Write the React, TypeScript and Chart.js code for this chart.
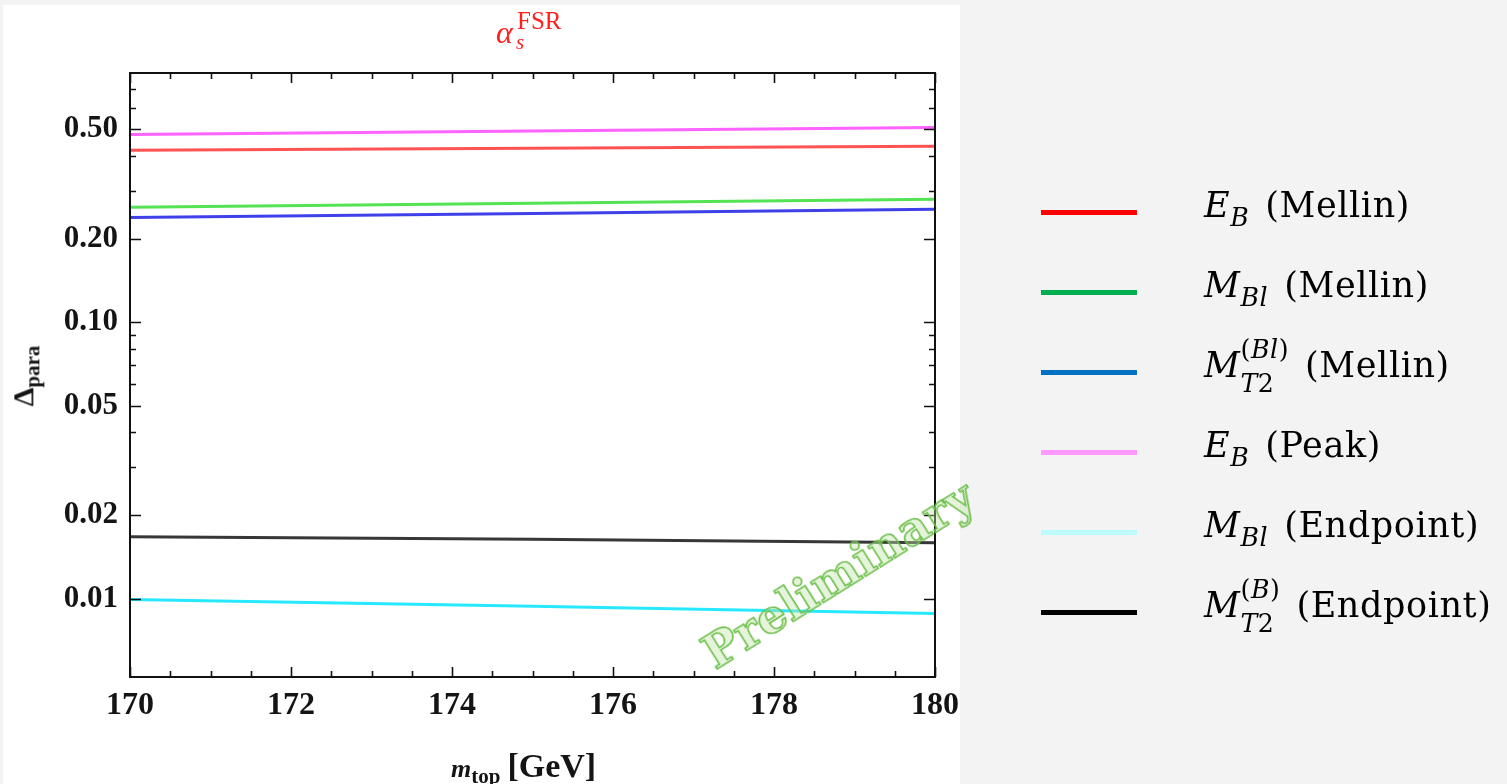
import React, { useEffect, useRef } from 'react';
import { Chart, registerables } from 'chart.js';
Chart.register(...registerables);

// ---- data ----
const mTop = [170, 175, 180];
const ebMellin = [0.42, 0.427, 0.434];
const mblMellin = [0.261, 0.27, 0.279];
const mt2blMellin = [0.24, 0.248, 0.257];
const ebPeak = [0.479, 0.493, 0.508];
const mblEndpoint = [0.00992, 0.00937, 0.00883];
const mt2bEndpoint = [0.01675, 0.0164, 0.01593];

const xMajorTicks = [170, 172, 174, 176, 178, 180];
const xTickLabels = ['170', '172', '174', '176', '178', '180'];
const xMinorTicks = [170.5, 171, 171.5, 172.5, 173, 173.5, 174.5, 175, 175.5, 176.5, 177, 177.5, 178.5, 179, 179.5];
const yMajorTicks = [0.01, 0.02, 0.05, 0.1, 0.2, 0.5];
const yTickLabels = ['0.01', '0.02', '0.05', '0.10', '0.20', '0.50'];
const yMinorTicks = [0.03, 0.04, 0.06, 0.07, 0.08, 0.09, 0.3, 0.4, 0.6, 0.7];

const seriesValues = [ebMellin, mblMellin, mt2blMellin, ebPeak, mblEndpoint, mt2bEndpoint];
const seriesColors = [
  'rgba(255,40,40,0.8)',
  'rgba(40,220,40,0.8)',
  'rgba(30,30,230,0.85)',
  'rgba(255,60,255,0.8)',
  'rgba(0,228,255,0.85)',
  'rgba(20,20,20,0.85)',
];
const legendColors = ['#ff0000', '#00b050', '#0070c0', '#ff99ff', '#bdfcfc', '#000000'];

const isClose = (a: number, b: number) => Math.abs(a - b) < 1e-9 * Math.max(1, Math.abs(b));

const framePlugin = {
  id: 'frameTicks',
  afterDraw(chart: any) {
    const { ctx, chartArea: a, scales } = chart;
    const x = scales.x;
    const y = scales.y;
    ctx.save();
    ctx.strokeStyle = '#111';
    ctx.lineWidth = 2;
    ctx.strokeRect(a.left, a.top, a.right - a.left, a.bottom - a.top);
    ctx.lineWidth = 1.6;
    ctx.beginPath();
    const xt = (v: number, len: number) => {
      const p = Math.round(x.getPixelForValue(v)) + 0.5;
      ctx.moveTo(p, a.bottom);
      ctx.lineTo(p, a.bottom - len);
      ctx.moveTo(p, a.top);
      ctx.lineTo(p, a.top + len);
    };
    const yt = (v: number, len: number) => {
      const p = Math.round(y.getPixelForValue(v)) + 0.5;
      ctx.moveTo(a.left, p);
      ctx.lineTo(a.left + len, p);
      ctx.moveTo(a.right, p);
      ctx.lineTo(a.right - len, p);
    };
    xMajorTicks.forEach((v) => xt(v, 10));
    xMinorTicks.forEach((v) => xt(v, 6));
    yMajorTicks.forEach((v) => yt(v, 11));
    yMinorTicks.forEach((v) => yt(v, 6));
    ctx.stroke();
    ctx.restore();
  },
};

function ChartCanvas() {
  const ref = useRef<HTMLCanvasElement | null>(null);
  useEffect(() => {
    if (!ref.current) return;
    const chart = new Chart(ref.current, {
      type: 'line',
      data: {
        datasets: seriesValues.map((vals, i) => ({
          data: mTop.map((m, j) => ({ x: m, y: vals[j] })),
          borderColor: seriesColors[i],
          borderWidth: 3,
          pointRadius: 0,
          fill: false,
          tension: 0,
        })),
      },
      options: {
        animation: false,
        responsive: false,
        devicePixelRatio: 1,
        layout: { padding: { left: 0, top: 73, right: 572, bottom: 0 } },
        plugins: { legend: { display: false }, tooltip: { enabled: false }, title: { display: false } },
        scales: {
          x: {
            type: 'linear',
            min: 170,
            max: 180,
            grid: { display: false, drawTicks: false },
            border: { display: false },
            afterBuildTicks: (s: any) => {
              s.ticks = [...xMajorTicks, ...xMinorTicks].sort((a, b) => a - b).map((v) => ({ value: v }));
            },
            afterFit: (s: any) => {
              s.height = 107;
            },
            ticks: {
              autoSkip: false,
              maxRotation: 0,
              padding: 10,
              color: '#141414',
              font: { family: 'Liberation Serif', weight: 'bold', size: 32 },
              callback: (v: any) => {
                const i = xMajorTicks.findIndex((t) => isClose(t, Number(v)));
                return i >= 0 ? xTickLabels[i] : '';
              },
            },
          },
          y: {
            type: 'logarithmic',
            min: 0.0052,
            max: 0.8,
            grid: { display: false, drawTicks: false },
            border: { display: false },
            afterBuildTicks: (s: any) => {
              s.ticks = [...yMajorTicks, ...yMinorTicks].sort((a, b) => a - b).map((v) => ({ value: v }));
            },
            afterFit: (s: any) => {
              s.width = 130;
            },
            ticks: {
              autoSkip: false,
              padding: 12,
              color: '#141414',
              font: { family: 'Liberation Serif', weight: 'bold', size: 31 },
              callback: (v: any) => {
                const i = yMajorTicks.findIndex((t) => isClose(t, Number(v)));
                return i >= 0 ? yTickLabels[i] : '';
              },
            },
          },
        },
      },
      plugins: [framePlugin],
    } as any);
    return () => chart.destroy();
  }, []);
  return <canvas ref={ref} width={1507} height={784} style={{ position: 'absolute', left: 0, top: 0 }} />;
}

// absolute text helper positioned by baseline
function T(props: { x: number; b: number; size: number; family?: string; style?: React.CSSProperties; children: React.ReactNode }) {
  const { x, b, size, family, style, children } = props;
  return (
    <span
      style={{
        position: 'absolute',
        left: x,
        top: b - 0.84 * size,
        fontSize: size,
        lineHeight: 1,
        fontFamily: family || 'Liberation Serif',
        whiteSpace: 'nowrap',
        ...style,
      }}
    >
      {children}
    </span>
  );
}

const it: React.CSSProperties = { fontStyle: 'italic' };

function SubSup(props: { sub: React.ReactNode; sup?: React.ReactNode }) {
  if (!props.sup) {
    return <span style={{ fontSize: '0.72em', verticalAlign: '-0.36em' }}>{props.sub}</span>;
  }
  return (
    <span style={{ display: 'inline-block', position: 'relative', fontSize: '0.72em', lineHeight: 1 }}>
      <span style={{ position: 'relative', top: '-0.72em' }}>{props.sup}</span>
      <span style={{ position: 'absolute', left: 0, top: '0.6em' }}>{props.sub}</span>
    </span>
  );
}

const gap: React.CSSProperties = { marginLeft: 16 };

const legendRows: { y: number; label: React.ReactNode }[] = [
  { y: 213, label: <><span style={it}>E</span><SubSup sub={<span style={it}>B</span>} /><span style={gap}>(Mellin)</span></> },
  { y: 293, label: <><span style={it}>M</span><SubSup sub={<span style={it}>Bl</span>} /><span style={gap}>(Mellin)</span></> },
  { y: 373, label: <><span style={it}>M</span><SubSup sub={<><span style={it}>T</span>2</>} sup={<>(<span style={it}>Bl</span>)</>} /><span style={gap}>(Mellin)</span></> },
  { y: 453, label: <><span style={it}>E</span><SubSup sub={<span style={it}>B</span>} /><span style={gap}>(Peak)</span></> },
  { y: 533, label: <><span style={it}>M</span><SubSup sub={<span style={it}>Bl</span>} /><span style={gap}>(Endpoint)</span></> },
  { y: 613, label: <><span style={it}>M</span><SubSup sub={<><span style={it}>T</span>2</>} sup={<>(<span style={it}>B</span>)</>} /><span style={gap}>(Endpoint)</span></> },
];

export default function App() {
  return (
    <div style={{ position: 'fixed', left: 0, top: 0, width: 1507, height: 784, background: '#f3f3f3', overflow: 'hidden' }}>
      <div style={{ position: 'absolute', left: 3, top: 5, width: 957, height: 779, background: '#ffffff' }} />
      <ChartCanvas />
      {/* title */}
      <T x={496} b={43} size={32} style={{ ...it, color: '#ff2020' }}>α</T>
      <T x={516} b={50} size={21} style={{ ...it, color: '#ff2020' }}>s</T>
      <T x={517} b={29} size={25} style={{ color: '#ff2020' }}>FSR</T>
      {/* y axis title */}
      <div
        style={{
          position: 'absolute',
          left: 26,
          top: 376,
          transform: 'translate(-50%, -50%) rotate(-90deg)',
          fontFamily: 'Liberation Serif',
          fontWeight: 'bold',
          fontSize: 30,
          lineHeight: 1,
          whiteSpace: 'nowrap',
          color: '#141414',
        }}
      >
        Δ<span style={{ fontSize: 21, verticalAlign: '-0.3em' }}>para</span>
      </div>
      {/* x axis title */}
      <T x={451} b={771} size={26} style={{ fontWeight: 'bold', color: '#141414' }}>
        <span style={it}>m</span>
        <span style={{ fontSize: 21, verticalAlign: '-0.3em' }}>top</span>
        <span style={{ fontSize: 34, marginLeft: 7 }}>[GeV]</span>
      </T>
      {/* legend */}
      {legendRows.map((r, i) => (
        <React.Fragment key={i}>
          <div style={{ position: 'absolute', left: 1041, top: r.y - 3, width: 96, height: 5, background: legendColors[i] }} />
          <T x={1204} b={r.y + 4} size={35} family="DejaVu Serif" style={{ color: '#000', letterSpacing: 0.6 }}>
            {r.label}
          </T>
        </React.Fragment>
      ))}
      {/* watermark */}
      <div
        style={{
          position: 'absolute',
          left: 838,
          top: 574,
          transform: 'translate(-50%, -50%) rotate(-32deg)',
          fontFamily: 'DejaVu Serif',
          fontWeight: 'bold',
          fontSize: 47,
          lineHeight: 1,
          whiteSpace: 'nowrap',
          color: 'rgba(190,228,165,0.4)',
          WebkitTextStroke: '1.6px #6cbf4a',
        }}
      >
        Preliminary
      </div>
    </div>
  );
}
